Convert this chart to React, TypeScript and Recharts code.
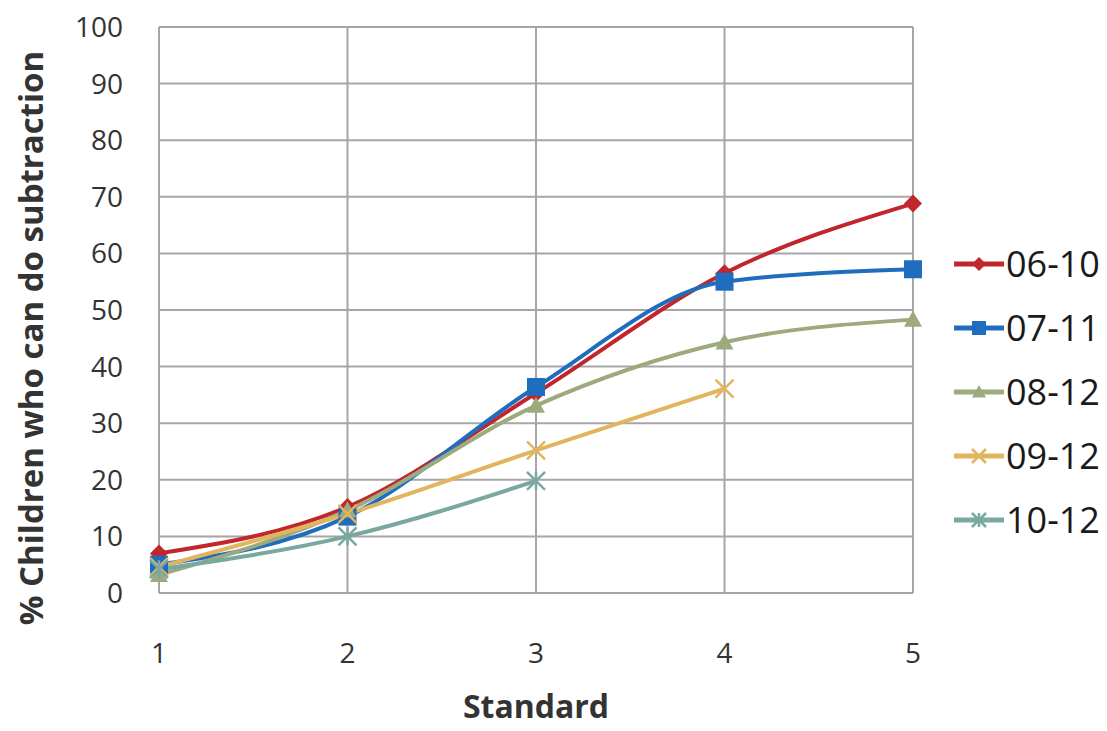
import { LineChart, Line, XAxis, YAxis, CartesianGrid } from "recharts";

const standards = [1, 2, 3, 4, 5];
const s0610 = [7, 15.2, 35.3, 56.5, 68.8];
const s0711 = [5, 13.5, 36.4, 55, 57.2];
const s0812 = [3.2, 14.6, 33.1, 44.3, 48.3];
const s0912 = [4.6, 14, 25.2, 36.1];
const s1012 = [4.2, 10, 19.8];
const yTicks = [0, 10, 20, 30, 40, 50, 60, 70, 80, 90, 100];

const series = [
  { key: "s0610", name: "06-10", color: "#C0262C", shape: "diamond" },
  { key: "s0711", name: "07-11", color: "#1F6EBE", shape: "square" },
  { key: "s0812", name: "08-12", color: "#9DAA7E", shape: "triangle" },
  { key: "s0912", name: "09-12", color: "#E1B45E", shape: "x" },
  { key: "s1012", name: "10-12", color: "#78A89F", shape: "star" },
];

const data = standards.map((s, i) => ({
  standard: s,
  s0610: s0610[i],
  s0711: s0711[i],
  s0812: s0812[i],
  s0912: s0912[i],
  s1012: s1012[i],
}));

function Marker({ cx, cy, shape, color, size = 9 }: any) {
  if (cx == null || cy == null) return null;
  const r = size;
  switch (shape) {
    case "diamond":
      return (
        <polygon
          points={`${cx},${cy - r} ${cx + r},${cy} ${cx},${cy + r} ${cx - r},${cy}`}
          fill={color}
        />
      );
    case "square":
      return <rect x={cx - r} y={cy - r} width={r * 2} height={r * 2} fill={color} />;
    case "triangle":
      return (
        <polygon
          points={`${cx},${cy - r} ${cx + r},${cy + r * 0.8} ${cx - r},${cy + r * 0.8}`}
          fill={color}
        />
      );
    case "x":
      return (
        <g stroke={color} strokeWidth={2.5}>
          <line x1={cx - r} y1={cy - r} x2={cx + r} y2={cy + r} />
          <line x1={cx - r} y1={cy + r} x2={cx + r} y2={cy - r} />
        </g>
      );
    default:
      return (
        <g stroke={color} strokeWidth={2.5}>
          <line x1={cx - r} y1={cy - r} x2={cx + r} y2={cy + r} />
          <line x1={cx - r} y1={cy + r} x2={cx + r} y2={cy - r} />
          <line x1={cx} y1={cy - r} x2={cx} y2={cy + r} />
        </g>
      );
  }
}

function ChartLegend() {
  return (
    <div
      style={{
        position: "absolute",
        left: 952,
        top: 232,
        display: "flex",
        flexDirection: "column",
      }}
    >
      {series.map((s) => (
        <div key={s.key} style={{ display: "flex", alignItems: "center", height: 64 }}>
          <svg width={54} height={30}>
            <line x1={2} y1={15} x2={52} y2={15} stroke={s.color} strokeWidth={5} />
            <Marker cx={27} cy={15} shape={s.shape} color={s.color} size={7} />
          </svg>
          <span style={{ fontSize: 36, color: "#1a1a1a", lineHeight: "46px" }}>{s.name}</span>
        </div>
      ))}
    </div>
  );
}

export default function App() {
  return (
    <div
      style={{
        position: "absolute",
        left: 0,
        top: 0,
        width: 1107,
        height: 731,
        background: "#fff",
        fontFamily: "'Open Sans', 'Liberation Sans', sans-serif",
      }}
    >
      <LineChart
        width={1107}
        height={731}
        data={data}
        margin={{ top: 27, right: 194, bottom: 0, left: 0 }}
      >
        <CartesianGrid stroke="#a6a6a6" strokeWidth={2} />
        <XAxis
          dataKey="standard"
          type="number"
          domain={[1, 5]}
          ticks={standards}
          axisLine={false}
          tickLine={false}
          tick={{ fontSize: 28, fill: "#333" }}
          tickMargin={44}
          label={{
            value: "Standard",
            position: "insideBottom",
            offset: 13,
            style: { fontSize: 32, fontWeight: 700, fill: "#333" },
          }}
          height={138}
        />
        <YAxis
          type="number"
          domain={[0, 100]}
          ticks={yTicks}
          interval={0}
          axisLine={false}
          tickLine={false}
          tick={{ fontSize: 28, fill: "#333" }}
          tickMargin={30}
          width={159}
          label={{
            value: "% Children who can do subtraction",
            angle: -90,
            position: "insideLeft",
            offset: 31,
            dy: 28,
            style: { fontSize: 33, fontWeight: 700, fill: "#333", textAnchor: "middle" },
          }}
        />
        {series.map((s) => (
          <Line
            key={s.key}
            type="monotone"
            dataKey={s.key}
            name={s.name}
            stroke={s.color}
            strokeWidth={4}
            dot={(p: any) => (
              <Marker key={`${s.key}-${p.index}`} cx={p.cx} cy={p.cy} shape={s.shape} color={s.color} />
            )}
            activeDot={false}
            isAnimationActive={false}
          />
        ))}
      </LineChart>
      <ChartLegend />
    </div>
  );
}
